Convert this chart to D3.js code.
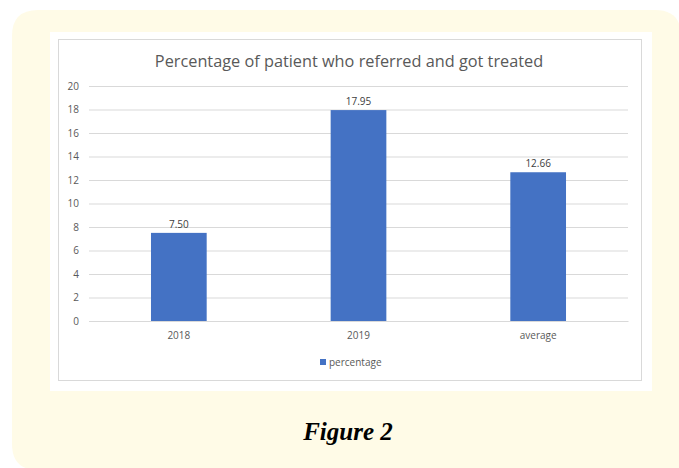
<!DOCTYPE html>
<html>
<head>
<meta charset="utf-8">
<script src="https://cdn.jsdelivr.net/npm/d3@7"></script>
<style>
  body { margin: 0; background: #fff; }
  svg { display: block; }
</style>
</head>
<body>
<script>
var categories = ["2018", "2019", "average"];  // x categories
var values = [7.50, 17.95, 12.66];  // percentage per category
var yTicks = [0, 2, 4, 6, 8, 10, 12, 14, 16, 18, 20];
var seriesName = "percentage";

var w = 679, h = 468;
var plot = { left: 89, right: 628, top: 86, bottom: 321 };

var svg = d3.select("body").append("svg")
    .attr("width", w)
    .attr("height", h);

// yellow rounded frame (runs off the right and bottom edges)
svg.append("path")
    .attr("d", "M12,36 Q12,10 38,10 L655,10 Q681,10 681,36 L681,470 L38,470 Q12,470 12,444 Z")
    .attr("fill", "#fffbe7");

// white panel and chart border
svg.append("rect")
    .attr("x", 50).attr("y", 32)
    .attr("width", 602).attr("height", 359)
    .attr("fill", "#fff");
svg.append("rect")
    .attr("x", 58.5).attr("y", 39.5)
    .attr("width", 583).attr("height", 341)
    .attr("fill", "#fff")
    .attr("stroke", "#d9d9d9");

var xScale = d3.scaleBand()
    .domain(categories)
    .range([plot.left, plot.right])
    .paddingInner(0.69)
    .paddingOuter(0.345);

var yScale = d3.scaleLinear()
    .domain([0, 20])
    .range([plot.bottom, plot.top]);

// gridlines + y labels
var yAxis = d3.axisLeft(yScale)
    .tickValues(yTicks)
    .tickSize(-(plot.right - plot.left))
    .tickPadding(10);

var gy = svg.append("g")
    .attr("transform", "translate(" + plot.left + ",0)")
    .call(yAxis);
gy.select(".domain").remove();
gy.selectAll(".tick line").attr("stroke", "#d9d9d9");
gy.selectAll(".tick text")
    .attr("fill", "#595959")
    .attr("font-family", "'Open Sans', sans-serif")
    .attr("font-size", "10px");

// x axis line + labels
var xAxis = d3.axisBottom(xScale).tickSize(0).tickPadding(11);
var gx = svg.append("g")
    .attr("transform", "translate(0," + plot.bottom + ")")
    .call(xAxis);
gx.select(".domain").attr("stroke", "#d9d9d9");
gx.selectAll(".tick text")
    .attr("fill", "#595959")
    .attr("font-family", "'Open Sans', sans-serif")
    .attr("font-size", "10px");

// bars
svg.selectAll("rect.bar")
    .data(values)
    .enter()
    .append("rect")
    .attr("class", "bar")
    .attr("x", function(d, i) { return xScale(categories[i]); })
    .attr("y", function(d) { return yScale(d); })
    .attr("width", xScale.bandwidth())
    .attr("height", function(d) { return yScale(0) - yScale(d); })
    .attr("fill", "#4472c4");

// value labels
svg.selectAll("text.val")
    .data(values)
    .enter()
    .append("text")
    .attr("class", "val")
    .text(function(d) { return d.toFixed(2); })
    .attr("x", function(d, i) { return xScale(categories[i]) + xScale.bandwidth() / 2; })
    .attr("y", function(d) { return yScale(d) - 5; })
    .attr("text-anchor", "middle")
    .attr("fill", "#404040")
    .attr("font-family", "'Open Sans', sans-serif")
    .attr("font-size", "10px");

// title
svg.append("text")
    .attr("x", 349).attr("y", 67)
    .attr("text-anchor", "middle")
    .attr("fill", "#595959")
    .attr("font-family", "'Open Sans', sans-serif")
    .attr("font-size", "16.3px")
    .text("Percentage of patient who referred and got treated");

// legend
svg.append("rect")
    .attr("x", 320).attr("y", 359)
    .attr("width", 6).attr("height", 6)
    .attr("fill", "#4472c4");
svg.append("text")
    .attr("x", 329).attr("y", 366)
    .attr("fill", "#595959")
    .attr("font-family", "'Open Sans', sans-serif")
    .attr("font-size", "10px")
    .text(seriesName);

// caption
svg.append("text")
    .attr("x", 348).attr("y", 440)
    .attr("text-anchor", "middle")
    .attr("fill", "#000")
    .attr("font-family", "'Liberation Serif', serif")
    .attr("font-weight", "bold")
    .attr("font-style", "italic")
    .attr("font-size", "25px")
    .text("Figure 2");
</script>
</body>
</html>
